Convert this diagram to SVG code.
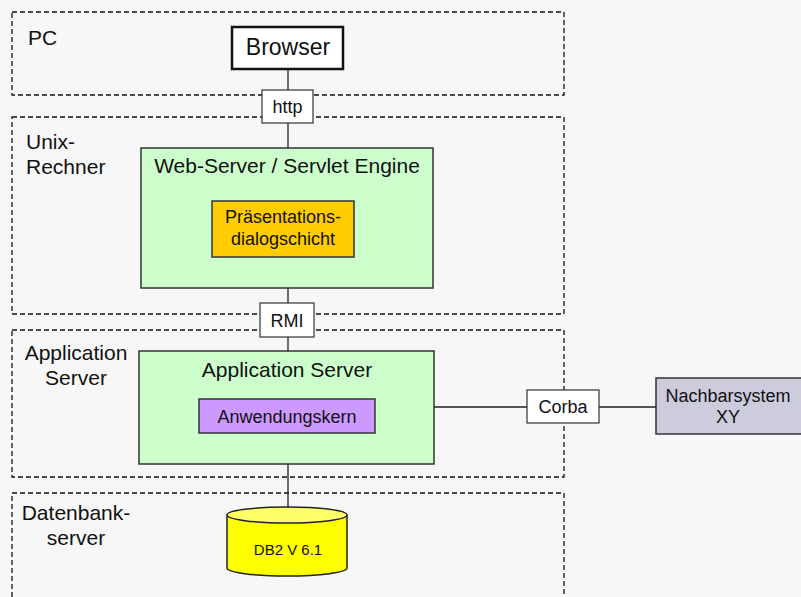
<svg xmlns="http://www.w3.org/2000/svg" width="801" height="597" viewBox="0 0 801 597">
<style>
text{font-family:"Liberation Sans",Arial,sans-serif;fill:#111}
.zone{fill:none;stroke:#111;stroke-width:1.3;stroke-dasharray:5,3}
.zl{font-size:21px;text-anchor:middle}
.zll{font-size:21px}
.box{stroke:#333;stroke-width:1.5}
.green{fill:#ccffcc}
.lbl{fill:#fff;stroke:#333;stroke-width:1.2}
.c{text-anchor:middle}
.t18{font-size:18px}
.t21{font-size:21px}
.conn line{stroke:#222;stroke-width:1.3}
</style>
<rect width="801" height="597" fill="#f7f7f7"/>
<g id="zones">
<rect class="zone" x="12" y="12" width="552" height="83"/>
<rect class="zone" x="12" y="117" width="552" height="197"/>
<rect class="zone" x="12" y="330" width="552" height="147"/>
<rect class="zone" x="12" y="493" width="552" height="120"/>
<text class="zll" x="28" y="45">PC</text>
<text class="zll" x="26" y="149">Unix-</text>
<text class="zll" x="26" y="174">Rechner</text>
<text class="zl" x="76" y="360">Application</text>
<text class="zl" x="76" y="385">Server</text>
<text class="zl" x="76" y="520">Datenbank-</text>
<text class="zl" x="76" y="545">server</text>
</g>
<g class="conn" id="connectors">
<line x1="288" y1="69" x2="288" y2="90"/>
<line x1="288" y1="123" x2="288" y2="148"/>
<line x1="288" y1="288" x2="288" y2="303"/>
<line x1="288" y1="337" x2="288" y2="351"/>
<line x1="288" y1="464" x2="288" y2="507"/>
<line x1="434" y1="407" x2="527" y2="407"/>
<line x1="599" y1="407" x2="656" y2="407"/>
</g>
<g id="browser">
<rect x="232" y="27" width="111" height="42" fill="#fff" stroke="#111" stroke-width="2.5"/>
<text class="c" x="288" y="55" font-size="23">Browser</text>
</g>
<g id="http">
<rect class="lbl" x="262" y="90" width="51" height="33"/>
<text class="c t18" x="287.5" y="113">http</text>
</g>
<g id="webserver">
<rect class="box green" x="141" y="148" width="292" height="140"/>
<text class="c t21" x="287" y="173">Web-Server / Servlet Engine</text>
</g>
<g id="praesentation">
<rect class="box" x="212" y="201" width="142" height="56" fill="#ffcc00"/>
<text class="c t18" x="283" y="223">Präsentations-</text>
<text class="c t18" x="283" y="245">dialogschicht</text>
</g>
<g id="rmi">
<rect class="lbl" x="260" y="303" width="54" height="34"/>
<text class="c t18" x="287" y="327">RMI</text>
</g>
<g id="appserver">
<rect class="box green" x="139" y="351" width="295" height="113"/>
<text class="c t21" x="287" y="377">Application Server</text>
</g>
<g id="anwendungskern">
<rect class="box" x="199" y="399" width="176" height="34" fill="#cc99ff"/>
<text class="c t18" x="287" y="423">Anwendungskern</text>
</g>
<g id="corba">
<rect class="lbl" x="527" y="390" width="72" height="33"/>
<text class="c t18" x="563" y="413">Corba</text>
</g>
<g id="nachbarsystem">
<rect class="box" x="656" y="378" width="150" height="56" fill="#ccccdd"/>
<text class="c t18" x="728" y="402">Nachbarsystem</text>
<text class="c t18" x="728" y="423">XY</text>
</g>
<g id="db2">
<path d="M227,515 L227,568 A60,8 0 0 0 347,568 L347,515" fill="#ffff00" stroke="#222" stroke-width="1.5"/>
<ellipse cx="287" cy="515" rx="60" ry="8" fill="#ffff66" stroke="#222" stroke-width="1.5"/>
<text class="c" x="288" y="555" font-size="15">DB2 V 6.1</text>
</g>
</svg>
